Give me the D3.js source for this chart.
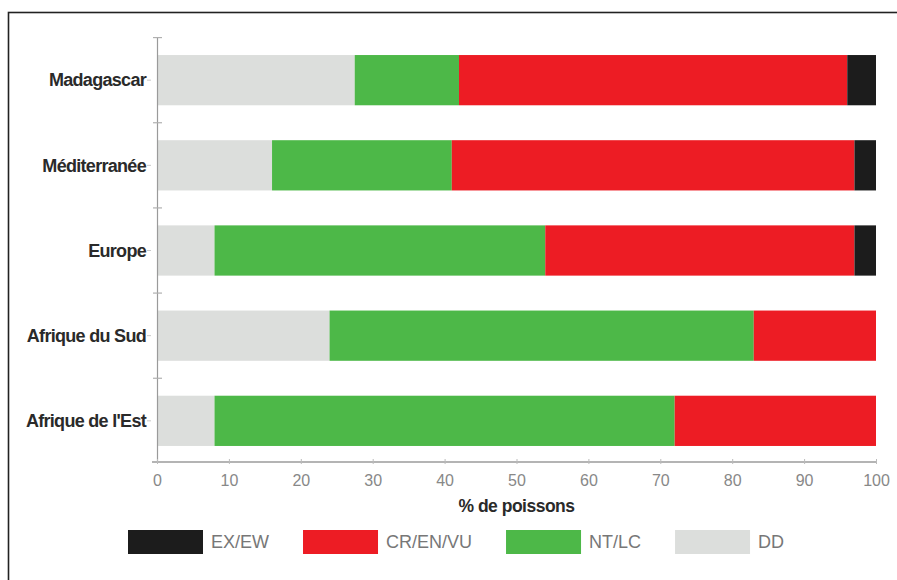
<!DOCTYPE html>
<html>
<head>
<meta charset="utf-8">
<script src="https://cdn.jsdelivr.net/npm/d3@7"></script>
<style>
  html, body { margin: 0; padding: 0; background: #fff; }
  svg { display: block; }
</style>
</head>
<body>
<svg id="chart" width="897" height="580"></svg>
<script>
// Régions (de haut en bas)
const categories = ["Madagascar", "Méditerranée", "Europe", "Afrique du Sud", "Afrique de l'Est"];

// Part des espèces de poissons par statut UICN (%)
const ddValues = [27.5, 16, 8, 24, 8];      // DD
const ntlcValues = [14.5, 25, 46, 59, 64];  // NT/LC
const crenvuValues = [54, 56, 43, 17, 28];  // CR/EN/VU
const exewValues = [4, 3, 3, 0, 0];         // EX/EW

const seriesKeys = ["DD", "NT/LC", "CR/EN/VU", "EX/EW"];
const legendKeys = ["EX/EW", "CR/EN/VU", "NT/LC", "DD"];
const xTicks = [0, 10, 20, 30, 40, 50, 60, 70, 80, 90, 100];
const xTitle = "% de poissons";

const colors = {
  "DD": "#dcdedc",
  "NT/LC": "#4db848",
  "CR/EN/VU": "#ed1c24",
  "EX/EW": "#1c1c1c"
};

const rows = categories.map((c, i) => ({
  region: c,
  "DD": ddValues[i],
  "NT/LC": ntlcValues[i],
  "CR/EN/VU": crenvuValues[i],
  "EX/EW": exewValues[i]
}));

const svg = d3.select("#chart");

// cadre
svg.append("rect")
  .attr("x", 8.5).attr("y", 12.5)
  .attr("width", 920).attr("height", 600)
  .attr("fill", "none")
  .attr("stroke", "#222")
  .attr("stroke-width", 1.6);

const x = d3.scaleLinear().domain([0, 100]).range([157, 876]);
const y = d3.scaleBand().domain(categories).range([38, 463])
  .paddingInner(0.41).paddingOuter(0.2);

const stack = d3.stack().keys(seriesKeys);
const stacked = stack(rows);

const g = svg.append("g");
g.selectAll("g.series")
  .data(stacked)
  .join("g")
  .attr("class", "series")
  .attr("fill", d => colors[d.key])
  .selectAll("rect")
  .data(d => d)
  .join("rect")
  .attr("x", d => x(d[0]))
  .attr("y", d => y(d.data.region))
  .attr("width", d => Math.max(0, x(d[1]) - x(d[0])))
  .attr("height", y.bandwidth());

// axe vertical
const gap = (y.step() - y.bandwidth()) / 2;
svg.append("line")
  .attr("x1", 157.5).attr("x2", 157.5)
  .attr("y1", 38).attr("y2", 462)
  .attr("stroke", "#9a9a9a").attr("stroke-width", 1.2);

svg.selectAll("line.ysep")
  .data(categories)
  .join("line")
  .attr("class", "ysep")
  .attr("x1", 153).attr("x2", 162)
  .attr("y1", d => y(d) - gap).attr("y2", d => y(d) - gap)
  .attr("stroke", "#b0b0b0").attr("stroke-width", 1.2);

svg.selectAll("line.ytick")
  .data(categories)
  .join("line")
  .attr("class", "ytick")
  .attr("x1", 147).attr("x2", 151)
  .attr("y1", d => y(d) + y.bandwidth() / 2)
  .attr("y2", d => y(d) + y.bandwidth() / 2)
  .attr("stroke", "#c8c8c8").attr("stroke-width", 1);

svg.selectAll("text.cat")
  .data(categories)
  .join("text")
  .attr("class", "cat")
  .attr("x", 146)
  .attr("y", d => y(d) + y.bandwidth() / 2)
  .attr("dy", "0.35em")
  .attr("text-anchor", "end")
  .attr("font-family", "Liberation Sans, Arial, sans-serif")
  .attr("font-size", 18)
  .attr("font-weight", "bold")
  .attr("letter-spacing", -0.7)
  .attr("fill", "#2a2a2a")
  .text(d => d);

// axe horizontal
const xAxis = d3.axisBottom(x)
  .tickValues(xTicks)
  .tickSize(3)
  .tickPadding(10)
  .tickFormat(d3.format("d"));

const ax = svg.append("g")
  .attr("transform", "translate(0,462)")
  .call(xAxis);
ax.select(".domain")
  .attr("d", `M152,0H${x(100)}`)
  .attr("stroke", "#b4b4b4")
  .attr("stroke-width", 2);
ax.selectAll(".tick line").attr("stroke", "#bbb").attr("y1", -3).attr("y2", 2);
ax.selectAll(".tick text")
  .attr("font-family", "Liberation Sans, Arial, sans-serif")
  .attr("font-size", 16)
  .attr("fill", "#888");

svg.append("text")
  .attr("x", (x(0) + x(100)) / 2)
  .attr("y", 512)
  .attr("text-anchor", "middle")
  .attr("font-family", "Liberation Sans, Arial, sans-serif")
  .attr("font-size", 17.5)
  .attr("font-weight", "bold")
  .attr("letter-spacing", -0.5)
  .attr("fill", "#2a2a2a")
  .text(xTitle);

// légende
const legend = svg.append("g").attr("transform", "translate(128,530)");
let cursor = 0;
legendKeys.forEach(k => {
  const item = legend.append("g").attr("transform", `translate(${cursor},0)`);
  item.append("rect")
    .attr("width", 75).attr("height", 24)
    .attr("fill", colors[k]);
  const t = item.append("text")
    .attr("x", 83)
    .attr("y", 12)
    .attr("dy", "0.36em")
    .attr("font-family", "Liberation Sans, Arial, sans-serif")
    .attr("font-size", 18)
    .attr("fill", "#777")
    .text(k);
  const w = t.node().getComputedTextLength();
  cursor += 83 + w + 34;
});
</script>
</body>
</html>
